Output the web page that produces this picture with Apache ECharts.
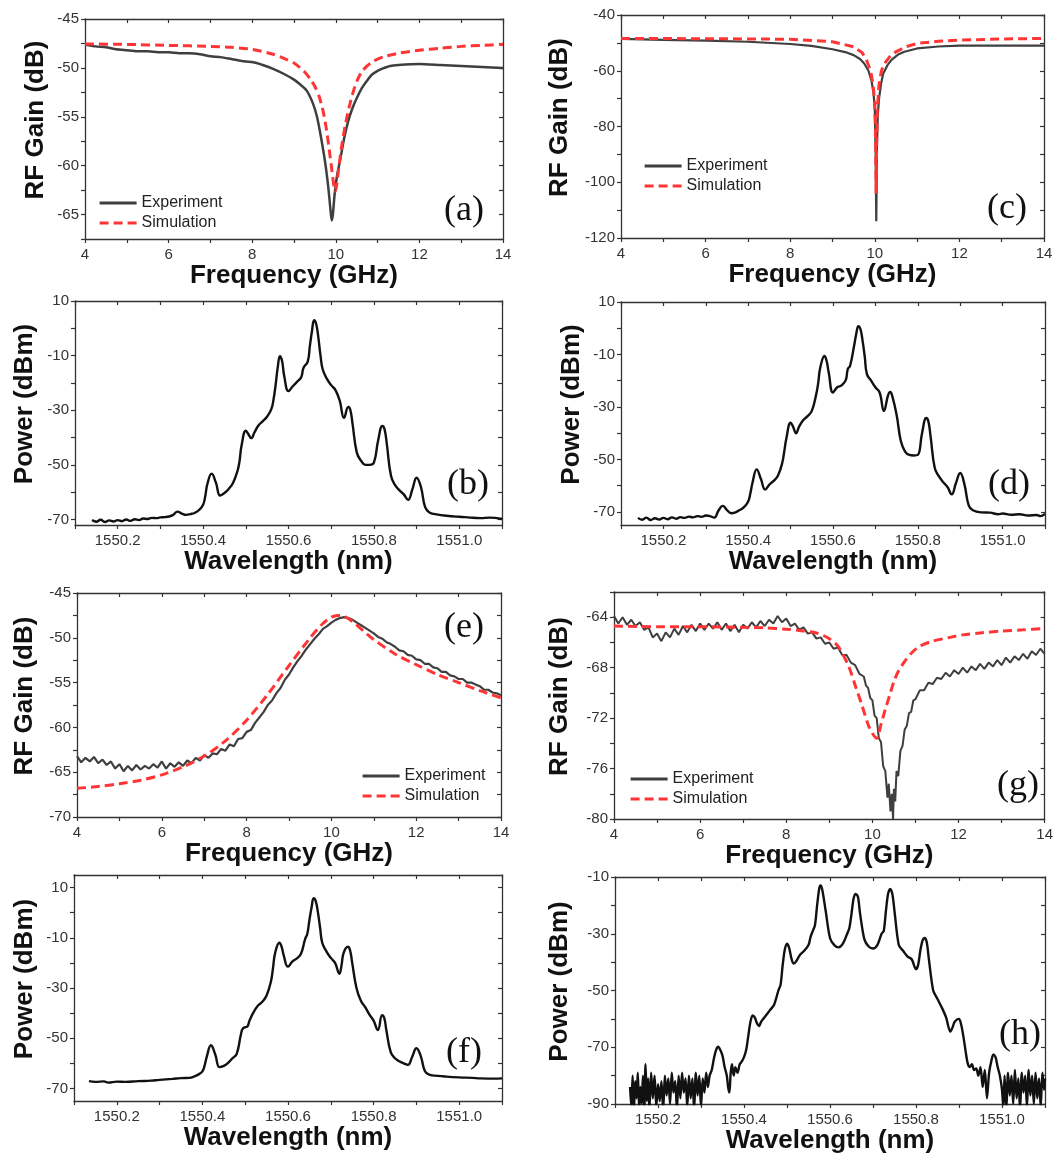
<!DOCTYPE html>
<html><head><meta charset="utf-8">
<script src="https://cdn.jsdelivr.net/npm/echarts@6/dist/echarts.min.js"></script>
<style>html,body{margin:0;padding:0;background:#fff}#c{width:1056px;height:1155px}</style>
</head><body><div id="c"></div>
<script>
// ---------- tick values / labels ----------
const freqTicks = [4,5,6,7,8,9,10,11,12,13,14];
const freqLabels = [4,6,8,10,12,14];
const wlTicks = [1550.1,1550.2,1550.3,1550.4,1550.5,1550.6,1550.7,1550.8,1550.9,1551.0,1551.1];
const wlLabels = [1550.2,1550.4,1550.6,1550.8,1551.0];
const aYTicks = [-67.5,-65,-62.5,-60,-57.5,-55,-52.5,-50,-47.5,-45];
const aYLabels = [-65,-60,-55,-50,-45];
const cYTicks = [-120,-110,-100,-90,-80,-70,-60,-50,-40];
const cYLabels = [-120,-100,-80,-60,-40];
const pYTicks = [-70,-60,-50,-40,-30,-20,-10,0,10];
const pYLabels = [-70,-50,-30,-10,10];
const eYTicks = [-70,-67.5,-65,-62.5,-60,-57.5,-55,-52.5,-50,-47.5,-45];
const eYLabels = [-70,-65,-60,-55,-50,-45];
const gYTicks = [-80,-78,-76,-74,-72,-70,-68,-66,-64,-62];
const gYLabels = [-80,-76,-72,-68,-64];
const hYTicks = [-90,-80,-70,-60,-50,-40,-30,-20,-10];
const hYLabels = [-90,-70,-50,-30,-10];

// ---------- (a) ----------
const aExp = [[4,-47.6],[4.25,-47.8],[4.5,-47.9],[4.75,-48.1],[5,-48.2],[5.25,-48.3],[5.5,-48.3],[5.75,-48.4],[6,-48.4],[6.25,-48.5],[6.5,-48.5],[6.75,-48.6],[7,-48.8],[7.25,-48.9],[7.5,-49.1],[7.75,-49.3],[8,-49.4],[8.25,-49.7],[8.5,-50.1],[8.75,-50.6],[9,-51.2],[9.15,-51.7],[9.3,-52.3],[9.45,-53.6],[9.55,-55.0],[9.65,-57.2],[9.75,-59.8],[9.82,-62.2],[9.87,-64.4],[9.9,-65.6],[9.93,-65.0],[9.97,-63.0],[10.03,-61.0],[10.1,-59.5],[10.2,-57.2],[10.3,-55.4],[10.4,-54.1],[10.5,-53.1],[10.62,-52.1],[10.75,-51.3],[10.86,-50.7],[11.0,-50.3],[11.1,-50.1],[11.3,-49.8],[11.5,-49.7],[12,-49.6],[12.5,-49.7],[13,-49.8],[13.5,-49.9],[14,-50.0]];
const aSim = [[4,-47.55],[5,-47.6],[6,-47.7],[7,-47.8],[7.5,-47.9],[8,-48.1],[8.5,-48.6],[8.8,-49.1],[9,-49.5],[9.25,-50.4],[9.4,-51.2],[9.5,-51.9],[9.6,-52.9],[9.7,-54.5],[9.78,-56.4],[9.85,-58.6],[9.91,-60.6],[9.96,-62.2],[9.99,-62.6],[10.02,-62.0],[10.07,-60.3],[10.13,-58.3],[10.22,-56.0],[10.32,-54.0],[10.42,-52.4],[10.52,-51.2],[10.62,-50.4],[10.75,-49.8],[10.87,-49.4],[11.0,-49.1],[11.2,-48.8],[11.5,-48.5],[12,-48.2],[12.5,-48.0],[13,-47.8],[13.5,-47.7],[14,-47.6]];

// ---------- (c) ----------
const cExp = [[4,-48.6],[5,-48.9],[6,-49.2],[7,-49.6],[8,-50.4],[8.5,-51.1],[9,-52.3],[9.3,-53.3],[9.5,-54.4],[9.65,-55.8],[9.75,-57.4],[9.85,-60],[9.92,-63.5],[9.97,-68],[10.0,-74],[10.02,-90],[10.035,-114],[10.05,-88],[10.07,-76],[10.1,-70],[10.15,-64.5],[10.2,-61],[10.3,-58],[10.4,-56],[10.55,-54.2],[10.7,-53.2],[11,-52],[11.5,-51.3],[12,-51],[13,-51],[14,-51]];
const cSim = [[4,-48.4],[6,-48.5],[8,-48.7],[9,-49.6],[9.5,-51.4],[9.7,-53.5],[9.8,-56.0],[9.9,-60],[9.96,-65],[10.0,-72],[10.02,-85],[10.03,-104],[10.045,-85],[10.06,-74],[10.1,-65],[10.15,-60.5],[10.2,-58],[10.35,-55],[10.5,-53.2],[10.75,-51.3],[11,-50.2],[11.5,-49.4],[12,-49.0],[13,-48.6],[14,-48.4]];

// ---------- (b) ----------
const bSpec = [[1550.14,-70.2],[1550.15,-70.8],[1550.16,-70.1],[1550.17,-70.9],[1550.18,-70.3],[1550.19,-70.7],[1550.2,-70.2],[1550.21,-70.6],[1550.22,-70.0],[1550.23,-70.5],[1550.24,-69.9],[1550.25,-70.2],[1550.26,-69.6],[1550.27,-69.8],[1550.28,-69.4],[1550.29,-69.5],[1550.3,-69.2],[1550.31,-69.1],[1550.32,-68.9],[1550.33,-68.3],[1550.34,-67.1],[1550.35,-67.8],[1550.36,-68.3],[1550.37,-68.0],[1550.38,-67.6],[1550.39,-66.6],[1550.4,-64.6],[1550.405,-61.5],[1550.41,-57],[1550.42,-53.2],[1550.43,-56.5],[1550.44,-61.2],[1550.45,-60.3],[1550.46,-58.8],[1550.47,-56.6],[1550.48,-52.5],[1550.485,-49],[1550.49,-43],[1550.5,-37.5],[1550.505,-38.5],[1550.513,-40.2],[1550.52,-38.2],[1550.53,-35.5],[1550.54,-34],[1550.55,-32.3],[1550.56,-29.5],[1550.565,-26],[1550.57,-20.5],[1550.575,-14],[1550.58,-10.2],[1550.585,-12],[1550.59,-17.5],[1550.6,-23],[1550.61,-21.2],[1550.62,-19.6],[1550.63,-17.8],[1550.635,-14.5],[1550.645,-12.2],[1550.65,-6.5],[1550.655,-1],[1550.66,3.0],[1550.665,1.5],[1550.67,-3.5],[1550.675,-10],[1550.68,-15],[1550.69,-18.5],[1550.7,-20.8],[1550.71,-22.6],[1550.72,-26.5],[1550.73,-32.8],[1550.74,-28.8],[1550.745,-30],[1550.75,-35],[1550.76,-45.5],[1550.77,-48.5],[1550.78,-50],[1550.79,-50],[1550.8,-49.2],[1550.81,-41],[1550.82,-35.7],[1550.825,-37],[1550.83,-42],[1550.84,-54],[1550.85,-57.5],[1550.86,-59.3],[1550.87,-60.8],[1550.88,-62.8],[1550.89,-59],[1550.9,-54.7],[1550.91,-58],[1550.92,-65.5],[1550.93,-67.4],[1550.95,-68.2],[1550.97,-68.6],[1551.0,-69.0],[1551.02,-69.2],[1551.05,-69.5],[1551.07,-69.3],[1551.1,-69.8]];

// ---------- (d) ----------
const dSpec = [[1550.14,-72.3],[1550.15,-73.0],[1550.16,-72.2],[1550.17,-73.1],[1550.18,-72.4],[1550.19,-72.9],[1550.2,-72.3],[1550.21,-72.8],[1550.22,-72.1],[1550.23,-72.6],[1550.24,-72.0],[1550.25,-72.3],[1550.26,-71.8],[1550.27,-72.1],[1550.28,-71.6],[1550.29,-71.9],[1550.3,-71.4],[1550.31,-71.6],[1550.32,-72.2],[1550.33,-69.5],[1550.34,-67.7],[1550.35,-69.3],[1550.36,-70.5],[1550.37,-70.2],[1550.38,-69.3],[1550.39,-68.2],[1550.4,-66.0],[1550.405,-63],[1550.41,-59],[1550.42,-53.8],[1550.43,-57.5],[1550.44,-61.5],[1550.45,-59.6],[1550.46,-58.2],[1550.47,-56.2],[1550.48,-51.5],[1550.485,-47],[1550.49,-42],[1550.5,-36],[1550.505,-37.2],[1550.513,-40],[1550.52,-37.5],[1550.53,-35],[1550.54,-33.5],[1550.55,-31.5],[1550.56,-25.5],[1550.565,-21],[1550.57,-15],[1550.58,-10.6],[1550.585,-12.5],[1550.59,-17],[1550.6,-24.5],[1550.61,-22.5],[1550.62,-21.8],[1550.63,-19.8],[1550.635,-15.5],[1550.64,-14.5],[1550.65,-6.5],[1550.655,-2],[1550.66,0.8],[1550.665,-0.5],[1550.67,-5],[1550.675,-11],[1550.68,-17.5],[1550.69,-20],[1550.7,-22.5],[1550.71,-24.5],[1550.72,-31.5],[1550.73,-25.5],[1550.735,-24.3],[1550.74,-26],[1550.75,-33],[1550.76,-43],[1550.77,-47],[1550.78,-48.3],[1550.79,-48.5],[1550.8,-48.3],[1550.81,-40],[1550.82,-34.2],[1550.825,-35.5],[1550.83,-41],[1550.84,-53.3],[1550.85,-56.5],[1550.86,-58.7],[1550.87,-60.5],[1550.88,-63.3],[1550.89,-59],[1550.9,-55.2],[1550.91,-59.5],[1550.92,-67.5],[1550.93,-69.4],[1550.95,-70.2],[1550.97,-70.3],[1550.99,-70.9],[1551.0,-70.6],[1551.02,-71.1],[1551.04,-70.9],[1551.06,-71.4],[1551.08,-71.2],[1551.09,-71.6],[1551.1,-70.8]];

// ---------- (e) ----------
const eFreq = [4.0,4.1,4.2,4.3,4.4,4.5,4.6,4.7,4.8,4.9,5.0,5.1,5.2,5.3,5.4,5.5,5.6,5.7,5.8,5.9,6.0,6.1,6.2,6.3,6.4,6.5,6.6,6.7,6.8,6.9,7.0,7.1,7.2,7.3,7.4,7.5,7.6,7.7,7.8,7.9,8.0,8.1,8.2,8.3,8.4,8.5,8.6,8.7,8.8,8.9,9.0,9.1,9.2,9.3,9.4,9.5,9.6,9.7,9.8,9.9,10.0,10.1,10.2,10.3,10.4,10.5,10.6,10.7,10.8,10.9,11.0,11.1,11.2,11.3,11.4,11.5,11.6,11.7,11.8,11.9,12.0,12.1,12.2,12.3,12.4,12.5,12.6,12.7,12.8,12.9,13.0,13.1,13.2,13.3,13.4,13.5,13.6,13.7,13.8,13.9,14.0];
const eExpGain = [-63.2,-63.9,-63.4,-63.8,-63.3,-64.0,-63.6,-64.2,-63.8,-64.6,-64.1,-64.9,-64.3,-64.8,-64.2,-64.7,-64.3,-64.6,-64.1,-64.5,-63.8,-64.6,-64.0,-64.4,-63.9,-64.3,-63.7,-64.0,-63.4,-63.7,-63.1,-63.4,-62.9,-63.0,-62.4,-62.6,-61.9,-62.1,-61.3,-61.2,-60.5,-60.3,-59.5,-58.9,-58.3,-57.5,-57.0,-56.2,-55.6,-54.7,-54.1,-53.3,-52.6,-52.0,-51.3,-50.7,-50.1,-49.6,-49.0,-48.7,-48.3,-48.0,-47.8,-47.7,-47.8,-48.0,-48.3,-48.6,-48.9,-49.2,-49.5,-49.9,-50.1,-50.5,-50.7,-51.0,-51.4,-51.5,-51.9,-52.0,-52.4,-52.5,-52.9,-52.9,-53.3,-53.4,-53.8,-53.8,-54.2,-54.3,-54.6,-54.6,-55.0,-55.0,-55.2,-55.4,-55.8,-55.8,-56.1,-56.2,-56.4];
const eSim = [[4,-66.8],[4.5,-66.6],[5,-66.3],[5.5,-65.9],[6,-65.3],[6.5,-64.4],[7,-63.2],[7.5,-61.5],[8,-59.2],[8.5,-56.3],[9,-53.1],[9.5,-50.0],[9.8,-48.4],[10,-47.7],[10.15,-47.5],[10.3,-47.6],[10.5,-48.2],[10.75,-49.2],[11,-50.2],[11.5,-51.8],[12,-53.0],[12.5,-54.1],[13,-55.0],[13.5,-55.9],[14,-56.7]];

// ---------- (g) ----------
const gExp = [[4.0,-63.9],[4.1,-64.5],[4.2,-64.0],[4.3,-64.6],[4.4,-64.2],[4.5,-64.7],[4.6,-64.4],[4.7,-65.0],[4.8,-64.8],[4.9,-65.6],[5.0,-65.3],[5.1,-65.9],[5.2,-65.2],[5.3,-65.6],[5.4,-64.9],[5.5,-65.4],[5.6,-64.7],[5.7,-65.2],[5.8,-64.6],[5.9,-65.1],[6.0,-64.5],[6.1,-65.0],[6.2,-64.5],[6.3,-64.9],[6.4,-64.4],[6.5,-65.0],[6.6,-64.5],[6.7,-65.1],[6.8,-64.6],[6.9,-65.2],[7.0,-64.6],[7.1,-64.9],[7.2,-64.4],[7.3,-64.8],[7.4,-64.3],[7.5,-64.7],[7.6,-64.2],[7.7,-64.5],[7.8,-63.9],[7.9,-64.4],[8.0,-64.1],[8.1,-64.7],[8.2,-64.5],[8.3,-65.0],[8.4,-64.8],[8.5,-65.3],[8.6,-65.2],[8.7,-65.7],[8.8,-65.6],[8.9,-66.1],[9.0,-66.0],[9.1,-66.5],[9.2,-66.4],[9.3,-67.0],[9.4,-67.0],[9.5,-67.6],[9.6,-67.8],[9.7,-68.5],[9.8,-68.7],[9.85,-69.4],[9.9,-69.6],[9.95,-70.4],[10.0,-70.6],[10.05,-71.8],[10.1,-72.0],[10.15,-73.6],[10.2,-73.9],[10.25,-75.8],[10.3,-76.2],[10.35,-78.3],[10.38,-77.2],[10.42,-79.4],[10.45,-78.0],[10.48,-80.0],[10.5,-77.6],[10.53,-78.6],[10.56,-76.2],[10.6,-76.6],[10.65,-74.6],[10.7,-74.2],[10.75,-72.9],[10.8,-72.6],[10.85,-71.6],[10.9,-71.5],[10.95,-70.6],[11.0,-70.5],[11.1,-69.8],[11.2,-69.8],[11.3,-69.2],[11.4,-69.3],[11.5,-68.8],[11.6,-68.9],[11.7,-68.4],[11.8,-68.7],[11.9,-68.2],[12.0,-68.5],[12.1,-68.0],[12.2,-68.4],[12.3,-67.9],[12.4,-68.2],[12.5,-67.7],[12.6,-68.1],[12.7,-67.6],[12.8,-67.9],[12.9,-67.4],[13.0,-67.8],[13.1,-67.2],[13.2,-67.6],[13.3,-67.1],[13.4,-67.4],[13.5,-66.9],[13.6,-67.3],[13.7,-66.7],[13.8,-67.0],[13.9,-66.5],[14.0,-66.9]];
const gSim = [[4,-64.7],[5,-64.75],[6,-64.75],[7,-64.8],[7.5,-64.85],[8,-64.95],[8.3,-65.05],[8.7,-65.25],[9.0,-65.7],[9.2,-66.3],[9.45,-67.9],[9.6,-69.4],[9.75,-70.9],[9.9,-72.5],[10.0,-73.2],[10.1,-73.6],[10.2,-72.5],[10.3,-71.3],[10.4,-70.2],[10.5,-69.1],[10.6,-68.3],[10.75,-67.5],[10.92,-66.8],[11.1,-66.3],[11.4,-65.9],[11.8,-65.6],[12.1,-65.4],[12.5,-65.25],[13,-65.1],[13.5,-65.0],[14,-64.9]];

// ---------- (f) ----------
const fSpec = [[1550.135,-67.1],[1550.15,-67.4],[1550.17,-67.2],[1550.18,-67.7],[1550.2,-67.3],[1550.22,-67.4],[1550.25,-67.1],[1550.28,-66.9],[1550.3,-66.6],[1550.33,-66.2],[1550.35,-65.9],[1550.37,-65.8],[1550.38,-65.3],[1550.39,-64.5],[1550.4,-63.2],[1550.405,-61],[1550.41,-57.5],[1550.42,-52.8],[1550.43,-56.5],[1550.44,-61.5],[1550.45,-61],[1550.46,-59.8],[1550.47,-58],[1550.48,-56.3],[1550.49,-48.5],[1550.495,-46],[1550.505,-45.3],[1550.51,-43],[1550.52,-39.5],[1550.53,-37],[1550.54,-35.5],[1550.55,-33],[1550.56,-27.5],[1550.565,-22],[1550.57,-16],[1550.58,-12],[1550.585,-13.5],[1550.59,-17],[1550.6,-21.5],[1550.61,-19.5],[1550.62,-18.3],[1550.63,-16.5],[1550.64,-10.5],[1550.645,-8.5],[1550.65,-3],[1550.655,2],[1550.66,5.8],[1550.665,4.5],[1550.67,0],[1550.675,-6],[1550.68,-12],[1550.69,-15.5],[1550.7,-18],[1550.71,-20],[1550.72,-24.3],[1550.725,-21],[1550.73,-16],[1550.74,-13.6],[1550.745,-15],[1550.75,-20],[1550.76,-30],[1550.77,-35],[1550.78,-37.5],[1550.79,-40.5],[1550.8,-43],[1550.81,-46.7],[1550.82,-40.8],[1550.825,-42],[1550.83,-47],[1550.84,-55.5],[1550.85,-58],[1550.86,-59.2],[1550.87,-60],[1550.88,-60.6],[1550.89,-57.5],[1550.9,-54],[1550.91,-57],[1550.92,-63.2],[1550.93,-64.5],[1550.95,-65],[1550.97,-65.3],[1551.0,-65.6],[1551.03,-65.8],[1551.05,-66],[1551.08,-66.1],[1551.1,-66.0]];

// ---------- (h) ----------
const hSpec = [[1550.135,-84],[1550.138,-91],[1550.141,-80],[1550.144,-92],[1550.147,-82],[1550.15,-88],[1550.153,-79],[1550.156,-91],[1550.159,-84],[1550.162,-90],[1550.165,-80],[1550.168,-92],[1550.171,-76],[1550.174,-89],[1550.177,-81],[1550.18,-92],[1550.184,-79],[1550.188,-88],[1550.192,-80],[1550.196,-91],[1550.2,-83],[1550.204,-89],[1550.208,-82],[1550.212,-92],[1550.216,-80],[1550.22,-87],[1550.224,-81],[1550.228,-90],[1550.232,-79],[1550.236,-86],[1550.24,-82],[1550.244,-92],[1550.248,-80],[1550.252,-88],[1550.256,-79],[1550.26,-86],[1550.264,-81],[1550.268,-91],[1550.272,-80],[1550.276,-88],[1550.28,-81],[1550.284,-92],[1550.288,-79],[1550.292,-87],[1550.296,-80],[1550.3,-91],[1550.304,-81],[1550.308,-86],[1550.312,-79],[1550.316,-84],[1550.32,-80],[1550.325,-78],[1550.33,-74],[1550.335,-71],[1550.34,-69.8],[1550.345,-71],[1550.35,-73],[1550.355,-77],[1550.36,-80],[1550.363,-84],[1550.366,-86],[1550.369,-79],[1550.372,-76],[1550.376,-80],[1550.38,-77],[1550.385,-79],[1550.39,-76],[1550.395,-75],[1550.4,-73.5],[1550.405,-71],[1550.41,-66],[1550.415,-61],[1550.42,-58.8],[1550.425,-59.5],[1550.43,-61.5],[1550.435,-62.5],[1550.44,-61],[1550.45,-59],[1550.46,-57],[1550.47,-55],[1550.48,-50],[1550.485,-48],[1550.49,-41],[1550.495,-35.5],[1550.5,-33.5],[1550.505,-35],[1550.51,-38.5],[1550.515,-40.5],[1550.52,-40],[1550.53,-37.5],[1550.54,-36],[1550.55,-34],[1550.555,-31],[1550.56,-29],[1550.565,-27],[1550.57,-20],[1550.575,-14],[1550.578,-13],[1550.582,-14.5],[1550.59,-22],[1550.6,-31.5],[1550.61,-34],[1550.62,-34.8],[1550.63,-33.5],[1550.64,-30],[1550.645,-28],[1550.65,-23],[1550.655,-17.5],[1550.66,-16],[1550.665,-17],[1550.67,-23],[1550.68,-32],[1550.69,-34.5],[1550.7,-35.2],[1550.71,-34],[1550.72,-30],[1550.725,-29],[1550.73,-22],[1550.735,-16],[1550.74,-14.2],[1550.745,-16],[1550.75,-22],[1550.76,-34],[1550.77,-36],[1550.78,-38],[1550.79,-39],[1550.8,-42.5],[1550.805,-41],[1550.81,-36],[1550.815,-32.5],[1550.82,-31.5],[1550.825,-33],[1550.83,-39],[1550.84,-50],[1550.85,-53],[1550.86,-56],[1550.87,-59.5],[1550.88,-64.5],[1550.885,-63],[1550.89,-61],[1550.9,-60],[1550.905,-62],[1550.91,-66],[1550.915,-71],[1550.92,-75.5],[1550.925,-77],[1550.93,-76],[1550.935,-78],[1550.94,-77.5],[1550.945,-80],[1550.95,-77],[1550.955,-84],[1550.96,-78],[1550.965,-88],[1550.97,-79],[1550.975,-75],[1550.98,-72.5],[1550.985,-73.5],[1550.99,-77],[1550.995,-80],[1551.0,-85],[1551.003,-91],[1551.006,-80],[1551.01,-92],[1551.014,-79],[1551.018,-87],[1551.022,-80],[1551.026,-90],[1551.03,-78],[1551.034,-88],[1551.038,-81],[1551.042,-92],[1551.046,-79],[1551.05,-86],[1551.054,-80],[1551.058,-91],[1551.062,-78],[1551.066,-87],[1551.07,-80],[1551.074,-90],[1551.078,-79],[1551.082,-88],[1551.086,-81],[1551.09,-91],[1551.094,-79],[1551.098,-85],[1551.1,-81]];

// ---------- build ----------
const SANS = "'Liberation Sans', Arial, sans-serif";
const SERIF = "'Liberation Serif', 'Times New Roman', serif";
const EXP_COLOR = '#3f3f3f', SIM_COLOR = '#ff3535', SPEC_COLOR = '#111';
const eExp = eFreq.map((f, i) => [f, eExpGain[i]]);

function expSeries(data, w, smooth) { return {name:'Experiment', data, w, color:EXP_COLOR, smooth}; }
function simSeries(data, smooth) { return {name:'Simulation', data, w:3, color:SIM_COLOR, dash:[9,5], smooth}; }
function specSeries(data, sm) { return {name:'Spectrum', data, w:2.4, color:SPEC_COLOR, smooth:sm}; }

const panels = [
  {box:[85,19,418,220], x:[4,14], y:[-67.5,-45], xt:freqTicks, xl:freqLabels, yt:aYTicks, yl:aYLabels,
   xname:'Frequency (GHz)', yname:'RF Gain (dB)', yGap:36, series:[expSeries(aExp,2.5,0.2), simSeries(aSim,0.25)],
   legend:[98,195], tag:['(a)',464,213]},
  {box:[621,15,423,223], x:[4,14], y:[-120,-40], xt:freqTicks, xl:freqLabels, yt:cYTicks, yl:cYLabels,
   xname:'Frequency (GHz)', yname:'RF Gain (dB)', yGap:48, series:[expSeries(cExp,2.2,false), simSeries(cSim,false)],
   legend:[643,158], tag:['(c)',1007,211]},
  {box:[75,301,427,224], x:[1550.1,1551.1], y:[-72,10], xt:wlTicks, xl:wlLabels, yt:pYTicks, yl:pYLabels, wl:true,
   xname:'Wavelength (nm)', yname:'Power (dBm)', yGap:37, series:[specSeries(bSpec,0.45)], tag:['(b)',467,487]},
  {box:[621,302,424,223], x:[1550.1,1551.1], y:[-75,10], xt:wlTicks, xl:wlLabels, yt:pYTicks, yl:pYLabels, wl:true,
   xname:'Wavelength (nm)', yname:'Power (dBm)', yGap:36, series:[specSeries(dSpec,0.45)], tag:['(d)',1008,487]},
  {box:[77,593,424,224], x:[4,14], y:[-70,-45], xt:freqTicks, xl:freqLabels, yt:eYTicks, yl:eYLabels,
   xname:'Frequency (GHz)', yname:'RF Gain (dB)', yGap:39, series:[expSeries(eExp,2.2,false), simSeries(eSim,0.3)],
   legend:[361,768], tag:['(e)',464,630]},
  {box:[614,592,431,227], x:[4,14], y:[-80,-62], xt:freqTicks, xl:freqLabels, yt:gYTicks, yl:gYLabels,
   xname:'Frequency (GHz)', yname:'RF Gain (dB)', yGap:41, series:[expSeries(gExp,2,false), simSeries(gSim,0.3)],
   legend:[629,771], tag:['(g)',1017,788]},
  {box:[74,875,428,226], x:[1550.1,1551.1], y:[-75,15], xt:wlTicks, xl:wlLabels, yt:pYTicks, yl:pYLabels, wl:true,
   xname:'Wavelength (nm)', yname:'Power (dBm)', yGap:36, series:[specSeries(fSpec,0.45)], tag:['(f)',466,1055]},
  {box:[615,877,430,227], x:[1550.1,1551.1], y:[-90,-10], xt:wlTicks, xl:wlLabels, yt:hYTicks, yl:hYLabels, wl:true,
   xname:'Wavelength (nm)', yname:'Power (dBm)', yGap:42, series:[specSeries(hSpec,0.3)], tag:['(h)',1019,1037]}
];

const option = {animation:false, backgroundColor:'#fff', grid:[], xAxis:[], yAxis:[], series:[], legend:[], graphic:[]};
const lineCol = '#333';
panels.forEach((p, i) => {
  option.grid.push({left:p.box[0], top:p.box[1], width:p.box[2], height:p.box[3], containLabel:false});
  const common = {type:'value', gridIndex:i, splitLine:{show:false},
    axisLine:{show:true, onZero:false, lineStyle:{color:lineCol, width:1.3}}};
  const fmtX = p.wl ? (v => v.toFixed(1)) : (v => String(v));
  option.xAxis.push(Object.assign({}, common, {position:'bottom', min:p.x[0], max:p.x[1],
    name:p.xname, nameLocation:'middle', nameGap:21,
    nameTextStyle:{fontFamily:SANS, fontWeight:'bold', fontSize:26, color:'#111'},
    axisTick:{show:true, inside:false, length:4, customValues:p.xt, lineStyle:{color:lineCol, width:1.2}},
    axisLabel:{show:true, customValues:p.xl, formatter:fmtX, margin:8, fontFamily:SANS, fontSize:15, color:'#333'}}));
  option.xAxis.push(Object.assign({}, common, {position:'top', min:p.x[0], max:p.x[1],
    axisTick:{show:true, inside:true, length:4, customValues:p.xt, lineStyle:{color:lineCol, width:1.2}},
    axisLabel:{show:false}}));
  option.yAxis.push(Object.assign({}, common, {position:'left', min:p.y[0], max:p.y[1],
    name:p.yname, nameLocation:'middle', nameGap:p.yGap,
    nameTextStyle:{fontFamily:SANS, fontWeight:'bold', fontSize:26, color:'#111', padding:[0,0,0,18]},
    axisTick:{show:true, inside:false, length:4, customValues:p.yt, lineStyle:{color:lineCol, width:1.2}},
    axisLabel:{show:true, customValues:p.yl, margin:6, fontFamily:SANS, fontSize:15, color:'#333'}}));
  option.yAxis.push(Object.assign({}, common, {position:'right', min:p.y[0], max:p.y[1],
    axisTick:{show:true, inside:true, length:4, customValues:p.yt, lineStyle:{color:lineCol, width:1.2}},
    axisLabel:{show:false}}));
  p.series.forEach(s => {
    option.series.push({type:'line', name:s.name, xAxisIndex:2*i, yAxisIndex:2*i, data:s.data,
      symbol:'none', smooth:s.smooth, clip:true, silent:true, z: s.name === 'Simulation' ? 3 : 2,
      lineStyle:{color:s.color, width:s.w, type:s.dash || 'solid'}, itemStyle:{color:s.color}});
  });
  if (p.legend) {
    option.legend.push({orient:'vertical', left:p.legend[0], top:p.legend[1], data:['Experiment','Simulation'],
      itemWidth:37, itemHeight:14, itemGap:4, selectedMode:false, padding:0,
      itemStyle:{opacity:0}, lineStyle:{width:3.2},
      textStyle:{fontFamily:SANS, fontSize:16, color:'#222', lineHeight:16}});
  }
  option.graphic.push({type:'text', left:p.tag[1] - 20, top:p.tag[2] - 20, silent:true,
    style:{text:p.tag[0], font:'36px ' + SERIF, fill:'#111', width:40, align:'center'}});
});

const chart = echarts.init(document.getElementById('c'), null, {renderer:'canvas'});
chart.setOption(option);
</script>
</body></html>
